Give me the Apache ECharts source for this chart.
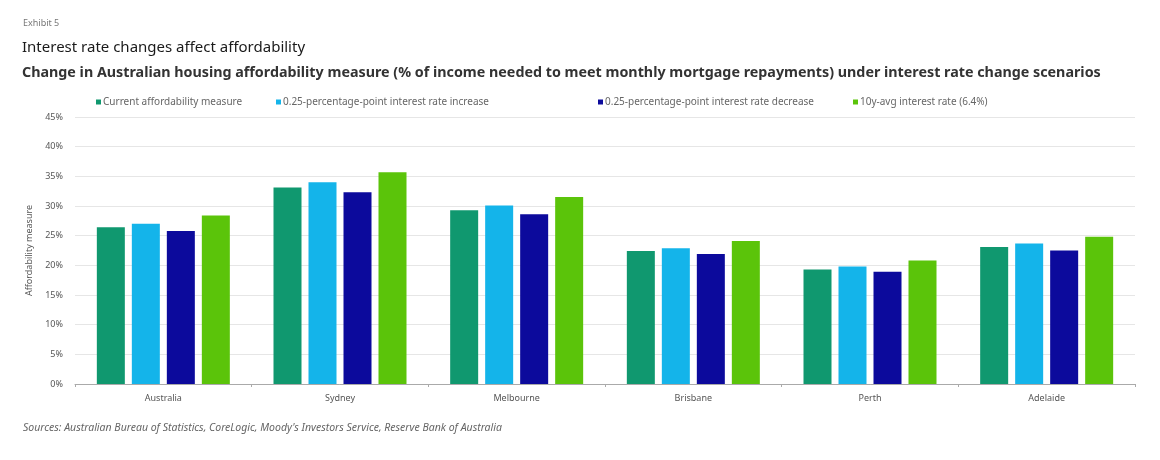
<!DOCTYPE html>
<html>
<head>
<meta charset="utf-8">
<script src="https://cdn.jsdelivr.net/npm/echarts@6/dist/echarts.min.js"></script>
<style>
  html, body { margin: 0; padding: 0; background: #fff; }
  #chart { width: 1160px; height: 460px; }
</style>
</head>
<body>
<div id="chart"></div>
<script>
const categories = ['Australia', 'Sydney', 'Melbourne', 'Brisbane', 'Perth', 'Adelaide']
const seriesNames = [
  'Current affordability measure',
  '0.25-percentage-point interest rate increase',
  '0.25-percentage-point interest rate decrease',
  '10y-avg interest rate (6.4%)'
]
const current = [26.4, 33.1, 29.3, 22.4, 19.3, 23.1]
const increase = [27.0, 34.0, 30.1, 22.9, 19.8, 23.7]
const decrease = [25.8, 32.3, 28.6, 21.9, 18.9, 22.5]
const tenYearAvg = [28.4, 35.7, 31.5, 24.1, 20.8, 24.8]
const colors = ['#10986f', '#14b4ea', '#0c0a9c', '#5bc40a']

const chart = echarts.init(document.getElementById('chart'))

const values = [current, increase, decrease, tenYearAvg]
// legend markers sit at uneven spots in the original
const legendLeft = [96, 276, 598, 853]

chart.setOption({
  animation: false,
  backgroundColor: '#fff',
  color: colors,
  textStyle: { fontFamily: 'Noto Sans' },
  title: [
    {
      text: 'Exhibit 5',
      left: 18, top: 14,
      textStyle: { fontSize: 9, fontWeight: 'normal', color: '#777' }
    },
    {
      text: 'Interest rate changes affect affordability',
      left: 17, top: 35,
      textStyle: { fontSize: 15, fontWeight: 'normal', color: '#1a1a1a' }
    },
    {
      text: 'Change in Australian housing affordability measure (% of income needed to meet monthly mortgage repayments) under interest rate change scenarios',
      left: 17, top: 61,
      textStyle: { fontSize: 14.3, fontWeight: 'bold', color: '#333' }
    },
    {
      text: 'Sources: Australian Bureau of Statistics, CoreLogic, Moody\'s Investors Service, Reserve Bank of Australia',
      left: 18, top: 418,
      textStyle: { fontSize: 10.5, fontWeight: 'normal', fontStyle: 'italic', color: '#666' }
    }
  ],
  legend: seriesNames.map((name, i) => ({
    top: 97,
    left: legendLeft[i],
    itemWidth: 5,
    itemHeight: 5,
    icon: 'rect',
    padding: 0,
    textStyle: { fontSize: 10, color: '#666', padding: [0, 0, 0, -3] },
    data: [name]
  })),
  grid: { left: 75, right: 25, top: 117, bottom: 76 },
  xAxis: {
    type: 'category',
    data: categories,
    axisLine: { lineStyle: { color: '#aaa' } },
    axisTick: { show: true, alignWithLabel: false, length: 3, lineStyle: { color: '#aaa' } },
    axisLabel: { fontSize: 9, color: '#555', margin: 10 }
  },
  yAxis: {
    type: 'value',
    min: 0, max: 45, interval: 5,
    name: 'Affordability measure',
    nameLocation: 'middle',
    nameGap: 40,
    nameTextStyle: { fontSize: 9, color: '#555' },
    axisLabel: { fontSize: 9, color: '#555', formatter: '{value}%', margin: 12 },
    splitLine: { lineStyle: { color: '#e6e6e6' } }
  },
  series: seriesNames.map((name, i) => ({
    name: name,
    type: 'bar',
    data: values[i],
    barWidth: 28,
    barGap: '25%',
    barCategoryGap: '25%'
  }))
})
</script>
</body>
</html>
